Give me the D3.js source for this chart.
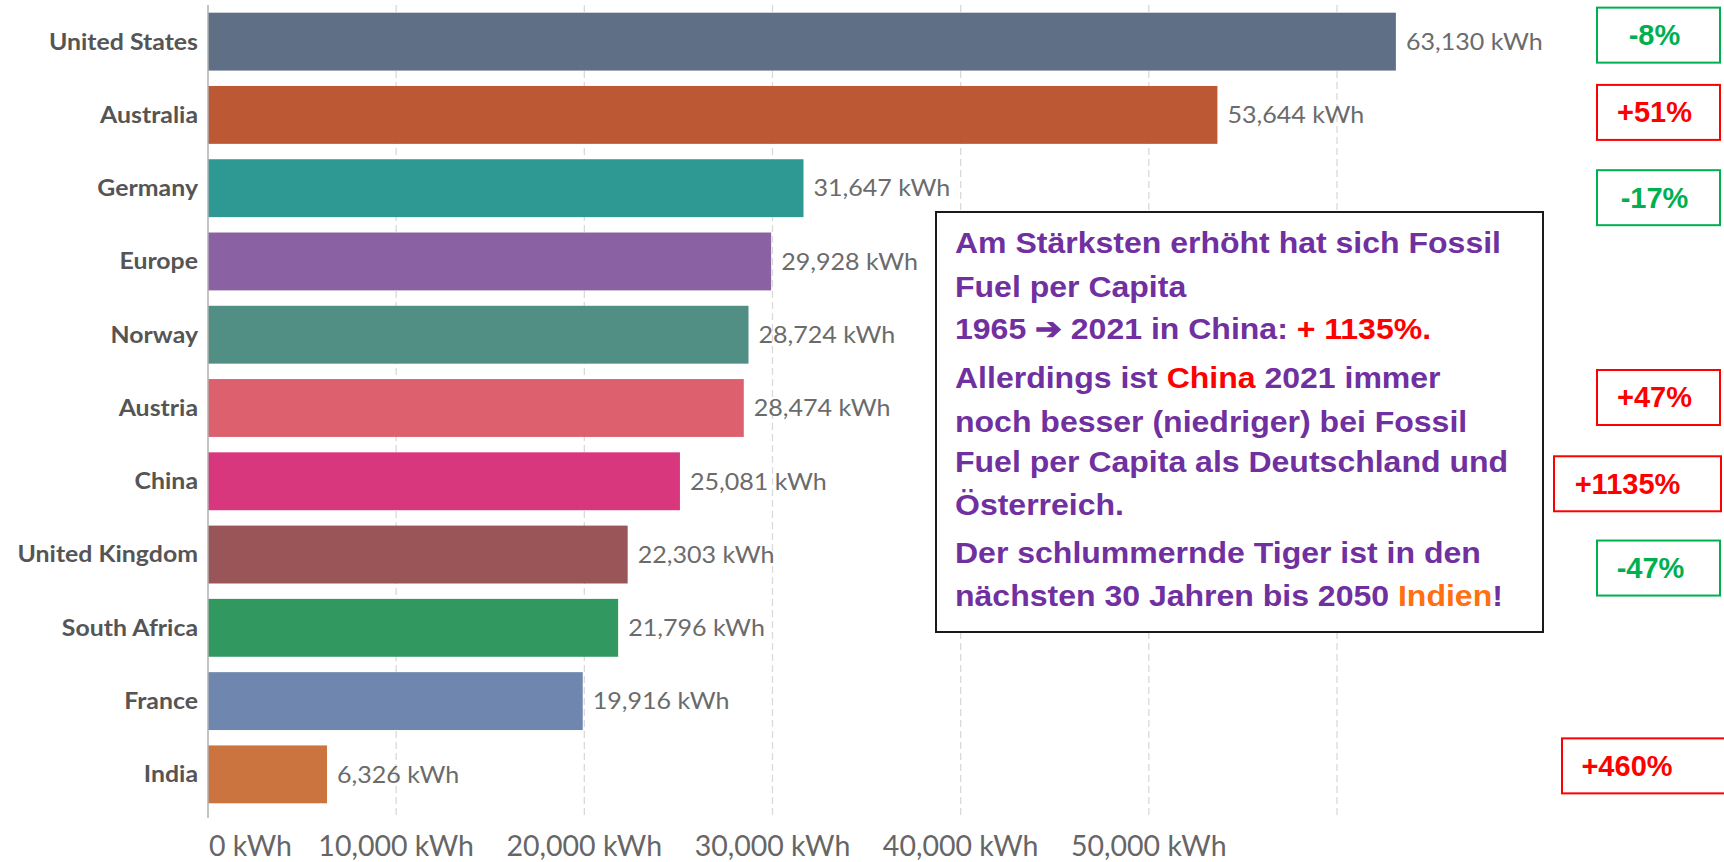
<!DOCTYPE html>
<html lang="en">
<head>
<meta charset="utf-8">
<title>Fossil fuel per capita</title>
<style>
  * { margin: 0; padding: 0; box-sizing: border-box; }
  body { background: #fff; width: 1724px; height: 862px; overflow: hidden; }
  svg { display: block; }
  .cat { font-family: Lato, sans-serif; font-weight: 700; font-size: 22px; fill: #555; }
  .val { font-family: Lato, sans-serif; font-size: 23px; fill: #6b6b6b; }
  .tick { font-family: Lato, sans-serif; font-size: 28.5px; fill: #666; }
  .note { font-family: "Liberation Sans", Arial, sans-serif; font-weight: 700; font-size: 30px; fill: #7030a0; }
  .badge { font-family: "Liberation Sans", Arial, sans-serif; font-weight: 700; font-size: 29px; }
</style>
</head>
<body>
<div id="chart"></div>
<script src="https://d3js.org/d3.v7.min.js"></script>
<script>
// fossil fuel consumption per capita, 2021
var countries = ["United States", "Australia", "Germany", "Europe", "Norway", "Austria",
                 "China", "United Kingdom", "South Africa", "France", "India"];
var values = [63130, 53644, 31647, 29928, 28724, 28474, 25081, 22303, 21796, 19916, 6326];
var colors = ["#5a6a81", "#bb532d", "#27968f", "#865da0", "#4b8b80", "#dc5b69",
              "#d72f79", "#975054", "#2a955b", "#6a83ab", "#c9703a"];
var tickValues = [0, 10000, 20000, 30000, 40000, 50000];
var gridValues = [10000, 20000, 30000, 40000, 50000, 60000];

// change 1965 -> 2021
var badgeCountries = ["United States", "Australia", "Germany", "Austria", "China", "United Kingdom", "India"];
var badgeLabels = ["-8%", "+51%", "-17%", "+47%", "+1135%", "-47%", "+460%"];

// box positions next to the rows (hand placed in the original)
var badgeLayout = [
  {dy: -7, x0: 1597, x1: 1720, tx: -4},
  {dy: -3, x0: 1597, x1: 1720, tx: -4},
  {dy: 9, x0: 1597, x1: 1720, tx: -4},
  {dy: -11, x0: 1597, x1: 1720, tx: -4},
  {dy: 2, x0: 1554, x1: 1721, tx: -10},
  {dy: 13, x0: 1597, x1: 1720, tx: -8},
  {dy: -9, x0: 1562, x1: 1730, tx: -19}
];

var noteLines = [
  [["Am Stärksten erhöht hat sich Fossil"]],
  [["Fuel per Capita"]],
  [["1965 ➔ 2021 in China: "], ["+ 1135%.", "#ff0000"]],
  [["Allerdings ist "], ["China", "#ff0000"], [" 2021 immer"]],
  [["noch besser (niedriger) bei Fossil"]],
  [["Fuel per Capita als Deutschland und"]],
  [["Österreich."]],
  [["Der schlummernde Tiger ist in den"]],
  [["nächsten 30 Jahren bis 2050 "], ["Indien", "#ff7010"], ["!"]]
];
var noteBaselines = [253, 297, 339, 388, 432, 472, 515, 563, 606];

var width = 1724, height = 862;

var svg = d3.select("#chart").append("svg")
  .attr("width", width)
  .attr("height", height);

var x = d3.scaleLinear().domain([0, 60000]).range([208, 1337]);
var y = d3.scaleBand().domain(countries).range([5, 811])
  .paddingInner(0.21).paddingOuter(0.105);

var gridTop = 5, gridBottom = 818;

// grid
svg.append("g")
  .selectAll("line")
  .data(gridValues)
  .enter()
  .append("line")
  .attr("x1", d => x(d)).attr("x2", d => x(d))
  .attr("y1", gridTop).attr("y2", gridBottom)
  .style("stroke", "#d9d9d9")
  .style("stroke-width", 1.3)
  .style("stroke-dasharray", "7,4");

// bars
svg.append("g")
  .selectAll("rect")
  .data(countries)
  .enter()
  .append("rect")
  .attr("x", x(0))
  .attr("y", d => y(d))
  .attr("width", (d, i) => x(values[i]) - x(0))
  .attr("height", y.bandwidth())
  .style("fill", (d, i) => colors[i])
  .style("fill-opacity", 0.97);

// zero line
svg.append("line")
  .attr("x1", x(0)).attr("x2", x(0))
  .attr("y1", gridTop).attr("y2", gridBottom)
  .style("stroke", "#b0b0b0")
  .style("stroke-width", 1.5);

// category labels (source text is a bit wide, hence the scaleX)
svg.append("g")
  .selectAll("text")
  .data(countries)
  .enter()
  .append("text")
  .attr("class", "cat")
  .attr("transform", d => "translate(" + (x(0) - 10) + "," + (y(d) + y.bandwidth() / 2) + ") scale(1.13,1)")
  .attr("dy", "0.36em")
  .attr("text-anchor", "end")
  .text(d => d);

// value labels
var fmt = d3.format(",");
svg.append("g")
  .selectAll("text")
  .data(countries)
  .enter()
  .append("text")
  .attr("class", "val")
  .attr("transform", (d, i) => "translate(" + (x(values[i]) + 10) + "," + (y(d) + y.bandwidth() / 2) + ") scale(1.09,1)")
  .attr("dy", "0.36em")
  .text((d, i) => fmt(values[i]) + " kWh");

// x tick labels
svg.append("g")
  .selectAll("text")
  .data(tickValues)
  .enter()
  .append("text")
  .attr("class", "tick")
  .attr("x", d => d === 0 ? x(0) + 1 : x(d))
  .attr("y", 856)
  .attr("text-anchor", d => d === 0 ? "start" : "middle")
  .text(d => fmt(d) + " kWh");

// note box
svg.append("rect")
  .attr("x", 936).attr("y", 212)
  .attr("width", 607).attr("height", 420)
  .style("fill", "#fff")
  .style("stroke", "#1a1a1a")
  .style("stroke-width", 2);

var note = svg.append("g")
  .attr("transform", "translate(955,0) scale(1.067,1)");
noteLines.forEach(function (parts, i) {
  var t = note.append("text")
    .attr("class", "note")
    .attr("x", 0)
    .attr("y", noteBaselines[i]);
  parts.forEach(function (p) {
    var s = t.append("tspan").text(p[0]);
    if (p[1]) s.style("fill", p[1]);
  });
});

// change badges
var badges = svg.append("g");
badgeCountries.forEach(function (c, i) {
  var lay = badgeLayout[i];
  var col = badgeLabels[i][0] === "-" ? "#00b050" : "#ff0000";
  var cy = y(c) + y.bandwidth() / 2 + lay.dy;
  badges.append("rect")
    .attr("x", lay.x0).attr("y", cy - 27)
    .attr("width", lay.x1 - lay.x0).attr("height", 55)
    .style("fill", "#fff")
    .style("stroke", col)
    .style("stroke-width", 2);
  badges.append("text")
    .attr("class", "badge")
    .attr("x", (lay.x0 + lay.x1) / 2 + lay.tx)
    .attr("y", cy)
    .attr("dy", "0.36em")
    .attr("text-anchor", "middle")
    .style("fill", col)
    .text(badgeLabels[i]);
});
</script>
</body>
</html>
